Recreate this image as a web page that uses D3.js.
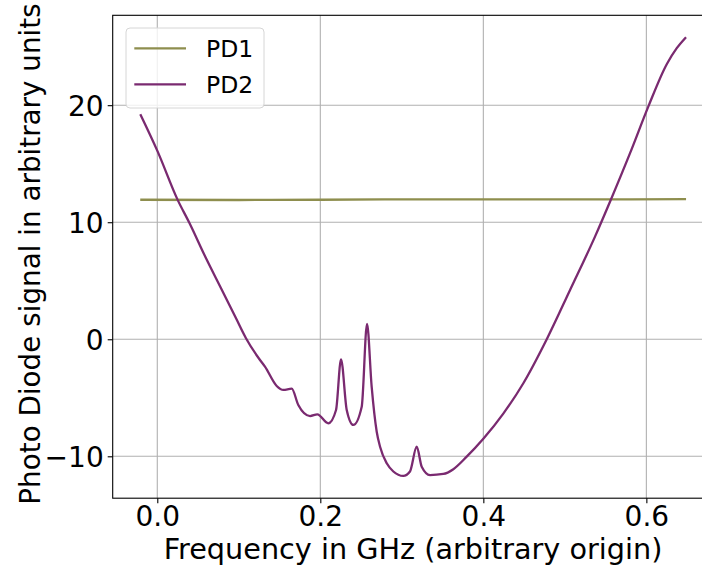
<!DOCTYPE html>
<html>
<head>
<meta charset="utf-8">
<script src="https://cdn.jsdelivr.net/npm/d3@7"></script>
<style>
  body { margin: 0; background: #fff; }
  text { font-family: "DejaVu Sans", sans-serif; fill: #000; }
</style>
</head>
<body>
<div id="plot"></div>
<script>
// PD2 trace: frequency (GHz) and signal
const pd2Freq = [-0.0209, 0.0005, 0.025, 0.0393, 0.0598, 0.0782, 0.0966, 0.1088, 0.126, 0.1321,
  0.1465, 0.1546, 0.1649, 0.173, 0.1874, 0.1963, 0.2098, 0.2193, 0.2254, 0.2324,
  0.2405, 0.2508, 0.2573, 0.263, 0.2692, 0.2733, 0.2815, 0.2896, 0.3018, 0.31,
  0.3183, 0.3244, 0.3346, 0.3509, 0.3632, 0.3796, 0.4, 0.4245, 0.4491, 0.4778,
  0.5064, 0.537, 0.5563, 0.58, 0.6025, 0.625, 0.6373, 0.6487];
const pd2Signal = [19.23, 16.03, 11.91, 9.95, 6.92, 4.36, 1.79, 0.09, -1.77, -2.34,
  -3.99, -4.33, -4.22, -5.62, -6.56, -6.41, -7.18, -6.04, -1.71, -6.04,
  -7.32, -5.76, 1.31, -4.05, -7.9, -9.18, -10.6, -11.3, -11.68, -11.3,
  -9.18, -10.89, -11.6, -11.51, -11.1, -10.03, -8.5, -6.35, -3.76, 0.0,
  4.21, 8.77, 11.9, 15.9, 19.9, 23.5, 24.87, 25.81];

// PD1 is nearly flat
const pd1Freq = [-0.0209, 0.1, 0.2, 0.3, 0.4, 0.5, 0.6487];
const pd1Signal = [11.92, 11.9, 11.92, 11.95, 11.95, 11.95, 11.97];

const xTicks = [0.0, 0.2, 0.4, 0.6];
const yTicks = [-10, 0, 10, 20];
const seriesNames = ["PD1", "PD2"];
const seriesColors = ["#8e8e4e", "#7a2a70"];

const W = 702, H = 568;
const margin = {left: 112.7, top: 15.3, right: -12.5, bottom: 69.8};

const svg = d3.select("#plot").append("svg")
  .attr("width", W).attr("height", H);

const x = d3.scaleLinear()
  .domain([-0.0547, 0.6836])
  .range([margin.left, W - margin.right]);
const y = d3.scaleLinear()
  .domain([-13.58, 27.68])
  .range([H - margin.bottom, margin.top]);

// grid
svg.append("g").selectAll("line").data(xTicks).enter().append("line")
  .attr("x1", d => x(d)).attr("x2", d => x(d))
  .attr("y1", margin.top).attr("y2", H - margin.bottom)
  .attr("stroke", "#b0b0b0").attr("stroke-width", 1.1);
svg.append("g").selectAll("line").data(yTicks).enter().append("line")
  .attr("y1", d => y(d)).attr("y2", d => y(d))
  .attr("x1", margin.left).attr("x2", W - margin.right)
  .attr("stroke", "#b0b0b0").attr("stroke-width", 1.1);

// lines
const line = d3.line().x(d => x(d[0])).y(d => y(d[1])).curve(d3.curveMonotoneX);
const pd1 = pd1Freq.map((f, i) => [f, pd1Signal[i]]);
const pd2 = pd2Freq.map((f, i) => [f, pd2Signal[i]]);
svg.append("path").datum(pd1).attr("d", line)
  .attr("fill", "none").attr("stroke", seriesColors[0]).attr("stroke-width", 2.3);
svg.append("path").datum(pd2).attr("d", line)
  .attr("fill", "none").attr("stroke", seriesColors[1]).attr("stroke-width", 2.3)
  .attr("stroke-linejoin", "round");

// axes
const xAxis = svg.append("g")
  .attr("transform", "translate(0," + (H - margin.bottom) + ")")
  .call(d3.axisBottom(x).tickValues(xTicks).tickFormat(d3.format(".1f")).tickSize(5).tickPadding(3));
const yAxis = svg.append("g")
  .attr("transform", "translate(" + margin.left + ",0)")
  .call(d3.axisLeft(y).tickValues(yTicks).tickFormat(d => d < 0 ? "\u2212" + Math.abs(d) : d).tickSize(5).tickPadding(4));
[xAxis, yAxis].forEach(a => {
  a.select(".domain").remove();
  a.selectAll("line").attr("stroke", "#000").attr("stroke-width", 1.1);
  a.selectAll("text").style("font-family", "DejaVu Sans").style("font-size", "28px");
});
yAxis.selectAll("text").attr("dy", "0.36em");

// frame
svg.append("rect")
  .attr("x", margin.left).attr("y", margin.top)
  .attr("width", W - margin.right - margin.left)
  .attr("height", H - margin.bottom - margin.top)
  .attr("fill", "none").attr("stroke", "#000").attr("stroke-width", 1.1);

// axis labels
svg.append("text")
  .attr("x", 413).attr("y", 558.5)
  .attr("text-anchor", "middle").style("font-size", "28.7px")
  .text("Frequency in GHz (arbitrary origin)");
svg.append("text")
  .attr("transform", "translate(40,254) rotate(-90)")
  .attr("text-anchor", "middle").style("font-size", "27.8px")
  .text("Photo Diode signal in arbitrary units");

// legend
const lg = svg.append("g");
lg.append("rect")
  .attr("x", 126).attr("y", 28).attr("width", 138).attr("height", 80).attr("rx", 4)
  .attr("fill", "#fff").attr("fill-opacity", 0.8)
  .attr("stroke", "#d6d6d6").attr("stroke-width", 1);
seriesNames.forEach((name, i) => {
  const yy = 48.3 + i * 36;
  lg.append("line").attr("x1", 134.3).attr("x2", 186).attr("y1", yy).attr("y2", yy)
    .attr("stroke", seriesColors[i]).attr("stroke-width", 2.3);
  lg.append("text").attr("x", 206).attr("y", yy).attr("dy", "0.36em")
    .style("font-size", "23.5px").text(name);
});
</script>
</body>
</html>
